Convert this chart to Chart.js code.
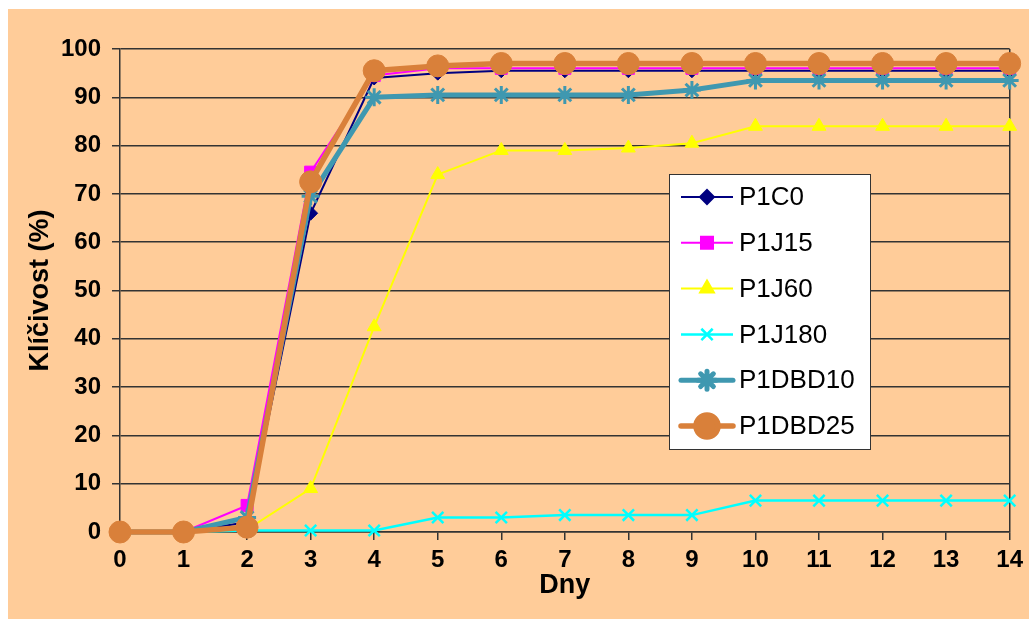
<!DOCTYPE html>
<html>
<head>
<meta charset="utf-8">
<script src="https://cdn.jsdelivr.net/npm/chart.js@4.4.1/dist/chart.umd.min.js"></script>
<style>
    body { margin: 0; background: #ffffff; }
    #wrap { position: absolute; left: 8px; top: 9px; width: 1021px; height: 610px; background: #FFCC99; }
</style>
</head>
<body>
<div id="wrap"><canvas id="chart" width="1021" height="610"></canvas></div>
<script>
// === DATA ===
const days = ["0", "1", "2", "3", "4", "5", "6", "7", "8", "9", "10", "11", "12", "13", "14"];
const p1c0    = [0, 0, 2,   66,   94,   95,   95.5, 95.5, 95.5, 95.5, 95.5, 95.5, 95.5, 95.5, 95.5];
const p1j15   = [0, 0, 5.5, 74.5, 94.5, 96,   96,   96,   96,   96,   96,   96,   96,   96,   96];
const p1j60   = [0, 0, 0.5, 9,    42.5, 74,   79,   79,   79.5, 80.5, 84,   84,   84,   84,   84];
const p1j180  = [0, 0, 0.3, 0.3,  0.3,  3,    3,    3.5,  3.5,  3.5,  6.5,  6.5,  6.5,  6.5,  6.5];
const p1dbd10 = [0, 0, 3,   69.5, 90,   90.5, 90.5, 90.5, 90.5, 91.5, 93.5, 93.5, 93.5, 93.5, 93.5];
const p1dbd25 = [0, 0, 1,   72.5, 95.5, 96.5, 97,   97,   97,   97,   97,   97,   97,   97,   97];

const FONT = "'Liberation Sans', Arial, sans-serif";
const GRID = "#333333";

// legenda uvnitr grafu (Excel styl)
const boxLegend = {
    id: "boxLegend",
    afterDraw(chart) {
        const ctx = chart.ctx;
        const area = chart.chartArea;
        const x = area.left + 549, y = area.top + 125, w = 201, h = 275;
        ctx.save();
        ctx.fillStyle = "#ffffff";
        ctx.fillRect(x, y, w, h);
        ctx.strokeStyle = GRID;
        ctx.lineWidth = 1;
        ctx.strokeRect(x + 0.5, y + 0.5, w, h);

        chart.data.datasets.forEach((ds, i) => {
            const ry = y + 23 + i * 45.8;
            ctx.strokeStyle = ds.borderColor;
            ctx.lineWidth = ds.borderWidth;
            ctx.lineCap = ds.borderWidth > 3 ? "round" : "butt";
            ctx.beginPath();
            ctx.moveTo(x + 12, ry);
            ctx.lineTo(x + 64, ry);
            ctx.stroke();

            ctx.fillStyle = ds.pointBackgroundColor;
            ctx.strokeStyle = ds.pointBorderColor;
            Chart.helpers.drawPoint(ctx, {
                pointStyle: ds.pointStyle,
                radius: ds.pointRadius,
                borderWidth: ds.pointBorderWidth,
                rotation: 0
            }, x + 38, ry);

            ctx.fillStyle = "#000000";
            ctx.font = "26px " + FONT;
            ctx.textAlign = "left";
            ctx.textBaseline = "middle";
            ctx.fillText(ds.label, x + 70, ry + 1);
        });
        ctx.restore();
    }
};

function series(label, data, color, style, radius, lineW, pointW, order) {
    return {
        label: label,
        data: data,
        borderColor: color,
        backgroundColor: color,
        borderWidth: lineW,
        pointStyle: style,
        pointRadius: radius,
        pointHoverRadius: radius,
        pointBackgroundColor: color,
        pointBorderColor: color,
        pointBorderWidth: pointW,
        tension: 0,
        fill: false,
        clip: false,
        order: order,
    };
}

new Chart(document.getElementById("chart"), {
    type: "line",
    data: {
        labels: days,
        datasets: [
            series("P1C0", p1c0, "#000080", "rectRot", 7, 2, 1, 6),
            series("P1J15", p1j15, "#FF00FF", "rect", 8.5, 2, 1, 5),
            series("P1J60", p1j60, "#FFFF00", "triangle", 8, 2, 1, 4),
            series("P1J180", p1j180, "#00FFFF", "crossRot", 8, 2.5, 2.5, 3),
            series("P1DBD10", p1dbd10, "#3F98B0", "star", 9, 5, 3, 2),
            series("P1DBD25", p1dbd25, "#D9803A", "circle", 11, 5.5, 1, 1),
        ],
    },
    options: {
        responsive: false,
        animation: false,
        layout: { padding: { left: 12, top: 40, right: 16, bottom: 13 } },
        plugins: {
            legend: { display: false },
            tooltip: { enabled: false },
        },
        scales: {
            x: {
                afterFit: (s) => { s.height = 74; },
                grid: {
                    drawOnChartArea: true,
                    color: (c) => (c.index === 14 ? GRID : "rgba(0,0,0,0)"),
                    tickColor: GRID,
                    tickLength: 8,
                    lineWidth: 1.5,
                },
                border: { display: true, color: GRID, width: 1.5 },
                ticks: {
                    color: "#000000",
                    padding: 6,
                    maxRotation: 0,
                    autoSkip: false,
                    font: { family: FONT, size: 24, weight: "bold" },
                },
                title: {
                    display: true,
                    text: "Dny",
                    color: "#000000",
                    font: { family: FONT, size: 27, weight: "bold" },
                },
            },
            y: {
                min: 0,
                max: 100,
                afterFit: (s) => { s.width = 100; },
                grid: { color: GRID, tickColor: GRID, tickLength: 8, lineWidth: 1.5 },
                border: { display: true, color: GRID, width: 1.5 },
                ticks: {
                    stepSize: 10,
                    color: "#000000",
                    padding: 11,
                    font: { family: FONT, size: 24, weight: "bold" },
                },
                title: {
                    display: true,
                    text: "Klíčivost (%)",
                    color: "#000000",
                    font: { family: FONT, size: 27, weight: "bold" },
                },
            },
        },
    },
    plugins: [boxLegend],
});
</script>
</body>
</html>
